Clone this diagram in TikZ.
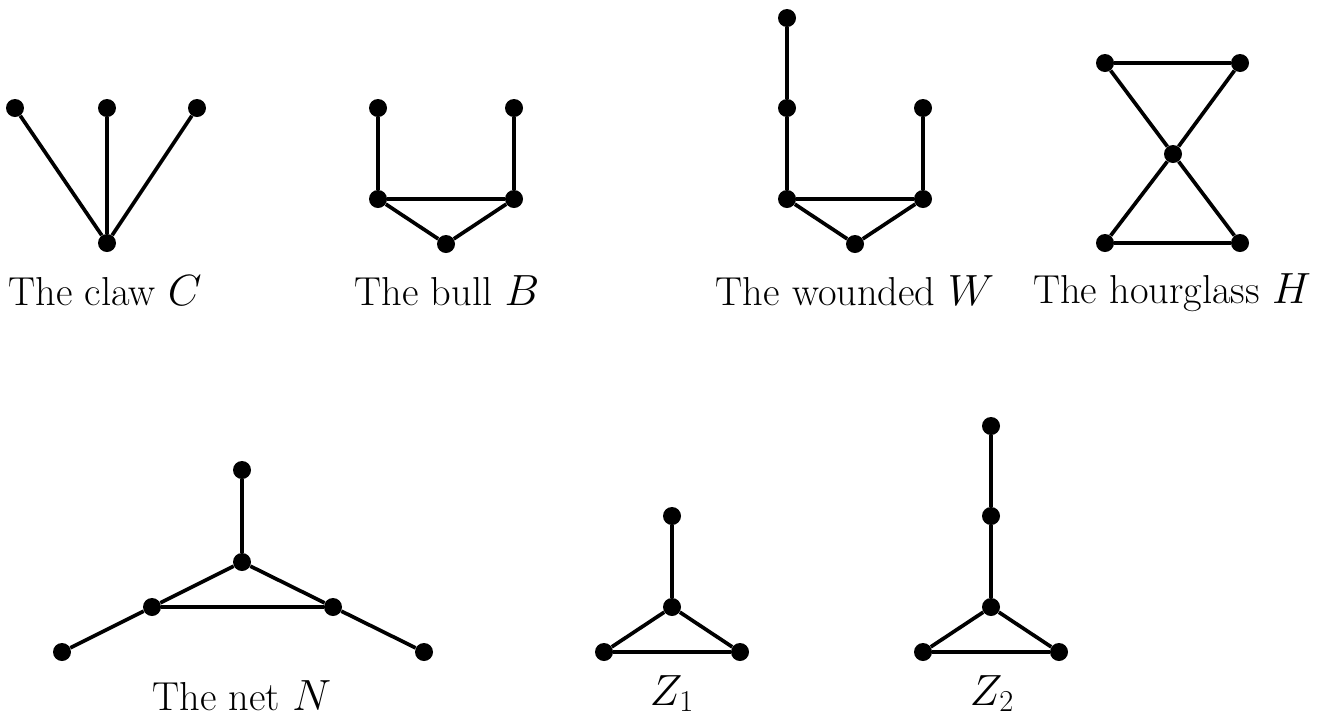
\documentclass[tikz,border=0pt]{standalone}
\usepackage{tikz}
\usetikzlibrary{positioning}

\begin{document}
\begin{tikzpicture}[x=0.02cm,y=-0.02cm,
  vtx/.style={circle,fill=black,inner sep=0pt,minimum size=0.36cm},
  edg/.style={line width=2.1pt},
  lbl/.style={anchor=base,font=\fontsize{23}{27}\selectfont},
]
\useasboundingbox (0,0) rectangle (1324,718);
% claw
\node[vtx] (c1) at (15,108) {};
\node[vtx] (c2) at (107,108) {};
\node[vtx] (c3) at (197,108) {};
\node[vtx] (c0) at (107,243) {};
\foreach \a/\b in {c1/c0,c2/c0,c3/c0}
  \draw[edg] (\a) -- (\b);
\node[lbl] (lc) at (105,305) {The claw $C$};
% bull
\node[vtx] (b1) at (378,108) {};
\node[vtx] (b2) at (514,108) {};
\node[vtx] (b3) at (378,199) {};
\node[vtx] (b4) at (514,199) {};
\node[vtx] (b5) at (446,244) {};
\foreach \a/\b in {b1/b3,b2/b4,b3/b4,b3/b5,b4/b5}
  \draw[edg] (\a) -- (\b);
\node[lbl] (lb) at (447,305) {The bull $B$};
% wounded
\node[vtx] (w1) at (787,18) {};
\node[vtx] (w2) at (787,108) {};
\node[vtx] (w3) at (787,199) {};
\node[vtx] (w4) at (923,108) {};
\node[vtx] (w5) at (923,199) {};
\node[vtx] (w6) at (855,244) {};
\foreach \a/\b in {w1/w2,w2/w3,w4/w5,w3/w5,w3/w6,w5/w6}
  \draw[edg] (\a) -- (\b);
\node[lbl] (lw) at (855,305) {The wounded $W$};
% hourglass
\node[vtx] (h1) at (1105,63) {};
\node[vtx] (h2) at (1240,63) {};
\node[vtx] (h0) at (1173,154) {};
\node[vtx] (h3) at (1105,243) {};
\node[vtx] (h4) at (1240,243) {};
\foreach \a/\b in {h1/h2,h1/h0,h2/h0,h3/h4,h3/h0,h4/h0}
  \draw[edg] (\a) -- (\b);
\node[lbl] (lh) at (1172,303) {The hourglass $H$};
% net
\node[vtx] (n1) at (242,470) {};
\node[vtx] (n2) at (242,562) {};
\node[vtx] (n3) at (152,607) {};
\node[vtx] (n4) at (333,607) {};
\node[vtx] (n5) at (62,652) {};
\node[vtx] (n6) at (424,652) {};
\foreach \a/\b in {n1/n2,n2/n3,n2/n4,n3/n4,n3/n5,n4/n6}
  \draw[edg] (\a) -- (\b);
\node[lbl] (ln) at (242,710) {The net $N$};
% Z1
\node[vtx] (za1) at (672,516) {};
\node[vtx] (za2) at (672,607) {};
\node[vtx] (za3) at (604,652) {};
\node[vtx] (za4) at (740,652) {};
\foreach \a/\b in {za1/za2,za2/za3,za2/za4,za3/za4}
  \draw[edg] (\a) -- (\b);
\node[lbl] (lza) at (672,705) {$Z_1$};
% Z2
\node[vtx] (zb1) at (991,426) {};
\node[vtx] (zb2) at (991,516) {};
\node[vtx] (zb3) at (991,607) {};
\node[vtx] (zb4) at (923,652) {};
\node[vtx] (zb5) at (1059,652) {};
\foreach \a/\b in {zb1/zb2,zb2/zb3,zb3/zb4,zb3/zb5,zb4/zb5}
  \draw[edg] (\a) -- (\b);
\node[lbl] (lzb) at (992,705) {$Z_2$};
\end{tikzpicture}
\end{document}
